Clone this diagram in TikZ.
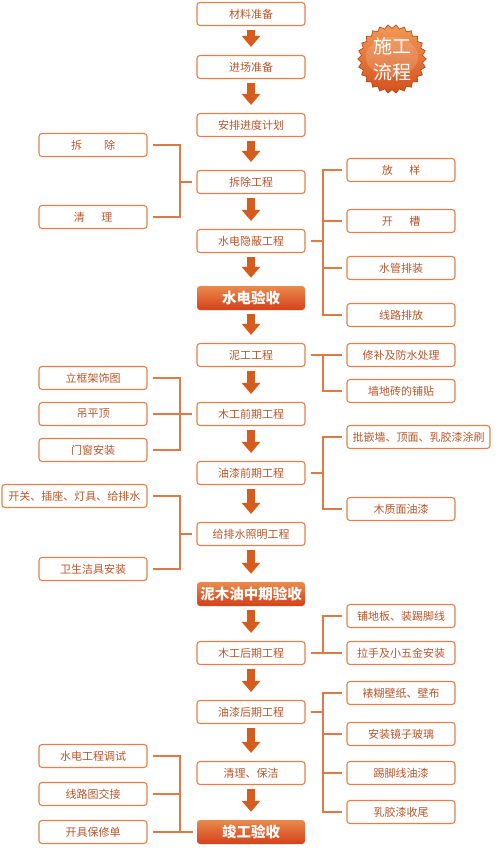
\documentclass[tikz,border=0pt]{standalone}
\usepackage{fontspec}
\newfontfamily\cjk{Noto Sans CJK SC}
\usetikzlibrary{arrows.meta}
\definecolor{boxline}{HTML}{E5804A}
\definecolor{boxtext}{HTML}{B8562A}
\definecolor{arrowc}{HTML}{D65C1E}
\definecolor{linkc}{HTML}{E07A45}
\definecolor{checktop}{HTML}{E98A4C}
\definecolor{checkbot}{HTML}{D5401A}
\definecolor{badgetop}{HTML}{F29A55}
\definecolor{badgebot}{HTML}{D4501C}
\tikzset{
  stepbox/.style={draw=boxline, line width=1.1pt, rounded corners=3pt, fill=white,
    text=boxtext, minimum width=108pt, minimum height=23pt, inner sep=0pt,
    font=\cjk\fontsize{11}{13}\selectfont},
  checkbox/.style={rounded corners=3pt, top color=checktop, bottom color=checkbot,
    text=white, minimum width=108pt, minimum height=24pt, inner sep=0pt,
    font=\cjk\bfseries\fontsize{14.5}{16}\selectfont},
  flow/.style={arrowc, line width=8pt, -{Triangle[width=18pt,length=11pt]},
    shorten <=4pt, shorten >=8pt},
  link/.style={draw=linkc, line width=1.1pt},
  badgetext/.style={text=white, inner sep=0pt, font=\cjk\fontsize{19}{21}\selectfont}
}
\begin{document}
\begin{tikzpicture}[x=1pt,y=-1pt]
\useasboundingbox (0,0) rectangle (500,849);
% main column
\node[stepbox] (cl) at (251,14) {材料准备};
\node[stepbox] (jc) at (251,67) {进场准备};
\node[stepbox] (ap) at (251,125) {安排进度计划};
\node[stepbox] (cc) at (251,182) {拆除工程};
\node[stepbox] (sd) at (251,241) {水电隐蔽工程};
\node[checkbox] (sdys) at (251,298) {水电验收};
\node[stepbox] (ng) at (251,355) {泥工工程};
\node[stepbox] (mq) at (251,414) {木工前期工程};
\node[stepbox] (yq) at (251,473) {油漆前期工程};
\node[stepbox] (gp) at (251,534) {给排水照明工程};
\node[checkbox] (zqys) at (251,594) {泥木油中期验收};
\node[stepbox] (mh) at (251,653) {木工后期工程};
\node[stepbox] (yh) at (251,712) {油漆后期工程};
\node[stepbox] (ql) at (251,773) {清理、保洁};
\node[checkbox] (jgys) at (251,832) {竣工验收};
\draw [flow] (cl) -- (jc);
\draw [flow] (jc) -- (ap);
\draw [flow] (ap) -- (cc);
\draw [flow] (cc) -- (sd);
\draw [flow] (sd) -- (sdys);
\draw [flow] (sdys) -- (ng);
\draw [flow] (ng) -- (mq);
\draw [flow] (mq) -- (yq);
\draw [flow] (yq) -- (gp);
\draw [flow] (gp) -- (zqys);
\draw [flow] (zqys) -- (mh);
\draw [flow] (mh) -- (yh);
\draw [flow] (yh) -- (ql);
\draw [flow] (ql) -- (jgys);
% left items
\coordinate (ls) at (180,0);
\node[stepbox] (cc1) at (93,145) {拆\hspace{2em}除};
\node[stepbox] (cc2) at (93,217) {清\hspace{1.5em}理};
\node[stepbox] (mq1) at (93,378) {立框架饰图};
\node[stepbox] (mq2) at (93,414) {吊平顶};
\node[stepbox] (mq3) at (93,450) {门窗安装};
\node[stepbox, minimum width=145pt] (gp1) at (74.5,496) {开关、插座、灯具、给排水};
\node[stepbox] (gp2) at (93,569) {卫生洁具安装};
\node[stepbox] (jg1) at (93,756) {水电工程调试};
\node[stepbox] (jg2) at (93,794) {线路图交接};
\node[stepbox] (jg3) at (93,832) {开具保修单};
\draw [link] ([xshift=5pt]cc1.east) -- (cc1 -| ls) |- ([xshift=-4pt]cc.west);
\draw [link] ([xshift=5pt]cc2.east) -- (cc2 -| ls) |- ([xshift=-4pt]cc.west);
\draw [link] ([xshift=5pt]mq1.east) -- (mq1 -| ls) |- ([xshift=-4pt]mq.west);
\draw [link] ([xshift=5pt]mq2.east) -- (mq2 -| ls) |- ([xshift=-4pt]mq.west);
\draw [link] ([xshift=5pt]mq3.east) -- (mq3 -| ls) |- ([xshift=-4pt]mq.west);
\draw [link] ([xshift=5pt]gp1.east) -- (gp1 -| ls) |- ([xshift=-4pt]gp.west);
\draw [link] ([xshift=5pt]gp2.east) -- (gp2 -| ls) |- ([xshift=-4pt]gp.west);
\draw [link] ([xshift=5pt]jg1.east) -- (jg1 -| ls) |- ([xshift=-4pt]jgys.west);
\draw [link] ([xshift=5pt]jg2.east) -- (jg2 -| ls) |- ([xshift=-4pt]jgys.west);
\draw [link] ([xshift=5pt]jg3.east) -- (jg3 -| ls) |- ([xshift=-4pt]jgys.west);
% right items
\coordinate (rs) at (323,0);
\node[stepbox] (sd1) at (401,170) {放\hspace{1.5em}样};
\node[stepbox] (sd2) at (401,221) {开\hspace{1.5em}槽};
\node[stepbox] (sd3) at (401,268) {水管排装};
\node[stepbox] (sd4) at (401,315) {线路排放};
\node[stepbox] (ng1) at (401,355) {修补及防水处理};
\node[stepbox] (ng2) at (401,391) {墙地砖的铺贴};
\node[stepbox, minimum width=143pt] (yq1) at (418.5,437) {批嵌墙、顶面、乳胶漆涂刷};
\node[stepbox] (yq2) at (401,509) {木质面油漆};
\node[stepbox] (mh1) at (401,616) {铺地板、装踢脚线};
\node[stepbox] (mh2) at (401,653) {拉手及小五金安装};
\node[stepbox] (yh1) at (401,693) {裱糊壁纸、壁布};
\node[stepbox] (yh2) at (401,734) {安装镜子玻璃};
\node[stepbox] (yh3) at (401,773) {踢脚线油漆};
\node[stepbox] (yh4) at (401,812) {乳胶漆收尾};
\draw [link] ([xshift=5pt]sd.east) -- (sd -| rs) |- ([xshift=-4pt]sd1.west);
\draw [link] ([xshift=5pt]sd.east) -- (sd -| rs) |- ([xshift=-4pt]sd2.west);
\draw [link] ([xshift=5pt]sd.east) -- (sd -| rs) |- ([xshift=-4pt]sd3.west);
\draw [link] ([xshift=5pt]sd.east) -- (sd -| rs) |- ([xshift=-4pt]sd4.west);
\draw [link] ([xshift=5pt]ng.east) -- (ng -| rs) |- ([xshift=-4pt]ng1.west);
\draw [link] ([xshift=5pt]ng.east) -- (ng -| rs) |- ([xshift=-4pt]ng2.west);
\draw [link] ([xshift=5pt]yq.east) -- (yq -| rs) |- ([xshift=-4pt]yq1.west);
\draw [link] ([xshift=5pt]yq.east) -- (yq -| rs) |- ([xshift=-4pt]yq2.west);
\draw [link] ([xshift=5pt]mh.east) -- (mh -| rs) |- ([xshift=-4pt]mh1.west);
\draw [link] ([xshift=5pt]mh.east) -- (mh -| rs) |- ([xshift=-4pt]mh2.west);
\draw [link] ([xshift=5pt]yh.east) -- (yh -| rs) |- ([xshift=-4pt]yh1.west);
\draw [link] ([xshift=5pt]yh.east) -- (yh -| rs) |- ([xshift=-4pt]yh2.west);
\draw [link] ([xshift=5pt]yh.east) -- (yh -| rs) |- ([xshift=-4pt]yh3.west);
\draw [link] ([xshift=5pt]yh.east) -- (yh -| rs) |- ([xshift=-4pt]yh4.west);
% badge
\coordinate (badge) at (392,59);
\shade[top color=badgetop, bottom color=badgebot, draw=badgebot!80!black, line width=0.6pt,
  shift={(badge)}] plot[domain=0:360, samples=53, variable=\t] (\t:{32.5+1.8*cos(26*\t)}) -- cycle;
\fill[white, opacity=0.15, shift={(badge)}] (0,-2) ellipse (26pt and 20pt);
\node[badgetext] (sg) at (392,46) {施工};
\node[badgetext] (lc) at (392,72) {流程};
\end{tikzpicture}
\end{document}
